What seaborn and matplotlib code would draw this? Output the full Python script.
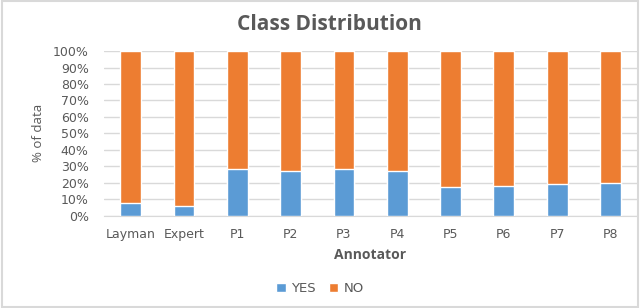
import matplotlib
matplotlib.use("Agg")
import matplotlib.pyplot as plt
import seaborn as sns
import pandas as pd
from matplotlib.patches import Rectangle, Patch
from matplotlib.ticker import PercentFormatter, MultipleLocator

annotators = ["Layman", "Expert", "P1", "P2", "P3", "P4", "P5", "P6", "P7", "P8"]
yes_pct = [7.5, 6.1, 28.5, 27.1, 28.4, 27.1, 17.4, 17.8, 19.4, 19.8]
no_pct = [100 - v for v in yes_pct]

df = pd.DataFrame({"Annotator": annotators, "YES": yes_pct, "NO": no_pct})
df["Total"] = df["YES"] + df["NO"]

sns.set_style("white")
plt.rcParams["font.family"] = ["DejaVu Sans"]

BLUE = "#5B9BD5"
ORANGE = "#ED7D31"
GREY = "#595959"

fig = plt.figure(figsize=(6.4, 3.08), dpi=100)
ax = fig.add_axes([0.1625, 0.300, 0.833, 0.534])

sns.barplot(data=df, x="Annotator", y="Total", color=ORANGE, width=0.39,
            saturation=1, ax=ax, zorder=2)
sns.barplot(data=df, x="Annotator", y="YES", color=BLUE, width=0.39,
            saturation=1, ax=ax, zorder=3)

ax.set_ylim(0, 100)
ax.set_xlim(-0.5, len(annotators) - 0.5)
ax.yaxis.set_major_locator(MultipleLocator(10))
ax.yaxis.set_major_formatter(PercentFormatter(decimals=0))
ax.grid(axis="y", color="#D9D9D9", linewidth=1, zorder=0)
ax.set_axisbelow(True)
for s in ["top", "right", "left"]:
    ax.spines[s].set_visible(False)
ax.spines["bottom"].set_color("#D9D9D9")
ax.tick_params(axis="both", length=0, colors=GREY, labelsize=9)
ax.tick_params(axis="x", pad=9)
ax.tick_params(axis="y", pad=11)
ax.set_xlabel("Annotator", fontsize=10, fontweight="bold", color=GREY, labelpad=5,
              family="Open Sans")
ax.set_ylabel("% of data", fontsize=9.5, color=GREY, labelpad=6, family="Open Sans")

fig.suptitle("Class Distribution", x=0.515, y=0.955, fontsize=15,
             fontweight="bold", color=GREY, family="Open Sans")

handles = [Patch(facecolor=BLUE, label="YES"), Patch(facecolor=ORANGE, label="NO")]
fig.legend(handles=handles, loc="center", bbox_to_anchor=(0.5, 0.062), ncol=2,
           frameon=False, fontsize=9.5, handlelength=0.7, handleheight=0.7,
           columnspacing=1.0, handletextpad=0.4, labelcolor=GREY)

fig.patches.append(Rectangle((0.003, 0.003), 0.994, 0.994, transform=fig.transFigure,
                             fill=False, edgecolor="#D9D9D9", linewidth=1.5))

fig.savefig("out.png", dpi=100)
